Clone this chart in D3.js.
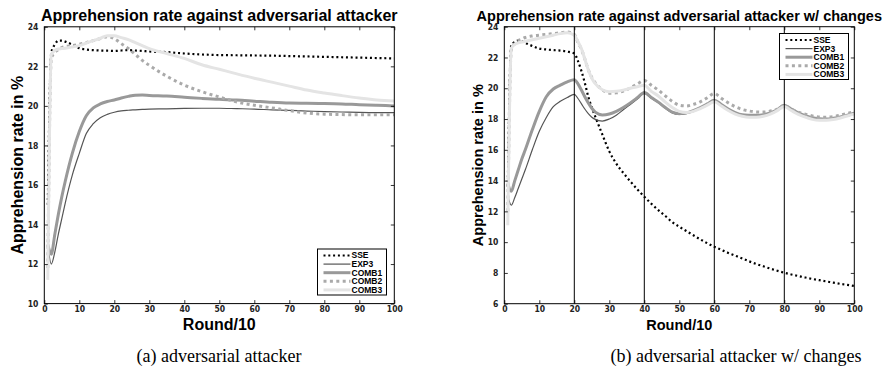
<!DOCTYPE html>
<html>
<head>
<meta charset="utf-8">
<script src="https://cdn.jsdelivr.net/npm/d3@7"></script>
<style>
  body { margin: 0; background: #fff; }
  svg { display: block; }
  .tick text { font-family: "Liberation Sans Narrow", "DejaVu Sans Condensed", Arial, sans-serif; font-weight: bold; font-size: 8.5px; fill: #222; }
  .lbl { font-family: "Liberation Sans", Arial, sans-serif; font-weight: bold; fill: #000; }
  .cap { font-family: "Liberation Serif", "DejaVu Serif", serif; font-size: 18px; fill: #000; }
  .leg { font-family: "Liberation Sans", Arial, sans-serif; font-weight: bold; font-size: 8.5px; fill: #000; }
</style>
</head>
<body>
<svg id="chart"></svg>
<script>
// series names, shared by both panels
const seriesNames = ['SSE', 'EXP3', 'COMB1', 'COMB2', 'COMB3'];

// (a) adversarial attacker
const leftX = [1,2,3,4,5,6,8,10,12,14,16,18,20,22,24,26,28,30,35,40,45,50,55,60,65,70,75,80,85,90,95,100];
const leftSSE = [15.0,22.7,23.1,23.3,23.3,23.25,23.1,22.92,22.85,22.82,22.8,22.79,22.78,22.8,22.82,22.8,22.78,22.75,22.72,22.65,22.6,22.57,22.56,22.55,22.54,22.52,22.5,22.48,22.46,22.44,22.42,22.4];
const leftEXP3 = [13.0,12.0,12.6,13.5,14.3,15.1,16.5,17.6,18.6,19.1,19.4,19.57,19.68,19.75,19.78,19.8,19.82,19.84,19.85,19.87,19.88,19.88,19.86,19.84,19.8,19.77,19.74,19.71,19.69,19.67,19.66,19.66];
const leftCOMB1 = [13.0,12.5,13.5,14.5,15.4,16.2,17.6,18.7,19.5,19.9,20.1,20.22,20.3,20.4,20.48,20.54,20.55,20.53,20.5,20.44,20.38,20.33,20.3,20.24,20.18,20.14,20.13,20.12,20.1,20.06,20.03,20.0];
const leftCOMB2 = [11.8,22.4,22.7,22.85,22.95,23.0,23.05,23.12,23.2,23.3,23.4,23.5,23.4,23.15,22.9,22.6,22.3,22.05,21.5,21.05,20.72,20.45,20.2,20.03,19.9,19.76,19.64,19.58,19.56,19.55,19.55,19.55];
const leftCOMB3 = [11.2,22.6,22.8,22.88,22.9,22.92,22.98,23.05,23.18,23.3,23.42,23.55,23.55,23.45,23.35,23.2,23.05,22.9,22.65,22.4,22.08,21.85,21.62,21.4,21.2,21.0,20.8,20.65,20.52,20.4,20.3,20.25];
const leftYTicks = [10,12,14,16,18,20,22,24];

// (b) adversarial attacker w/ changes
const rightX = [1,2,3,4,5,6,8,10,12,14,16,18,20,21,22,23,24,25,26,28,30,32,34,36,38,40,42,44,46,48,50,52,54,56,58,60,62,64,66,68,70,72,74,76,78,80,82,84,86,88,90,92,94,96,98,100];
const rightSSE = [13.6,22.8,23.0,23.1,23.05,22.95,22.75,22.58,22.52,22.48,22.45,22.38,22.26,21.8,21.15,20.35,19.45,18.75,18.15,17.0,15.9,15.1,14.5,13.95,13.43,12.95,12.5,12.08,11.7,11.3,11.0,10.72,10.45,10.18,9.93,9.7,9.5,9.3,9.12,8.94,8.75,8.58,8.43,8.28,8.14,8.01,7.9,7.8,7.7,7.61,7.53,7.45,7.37,7.29,7.22,7.15];
const rightEXP3 = [13.0,12.4,12.9,13.5,14.1,14.7,16.0,17.2,18.1,18.8,19.15,19.4,19.6,19.35,19.0,18.65,18.35,18.12,17.98,17.87,18.0,18.25,18.6,18.95,19.3,19.66,19.35,19.05,18.7,18.4,18.3,18.35,18.5,18.7,18.93,19.17,18.9,18.6,18.37,18.23,18.2,18.19,18.23,18.35,18.55,18.85,18.6,18.35,18.17,18.03,17.97,17.95,18.0,18.08,18.2,18.33];
const rightCOMB1 = [13.8,13.3,14.0,14.7,15.4,16.0,17.3,18.5,19.45,19.95,20.2,20.42,20.55,20.3,19.9,19.45,19.05,18.7,18.45,18.27,18.33,18.5,18.75,19.05,19.38,19.72,19.4,19.1,18.75,18.45,18.35,18.4,18.55,18.75,18.98,19.22,18.95,18.65,18.42,18.28,18.25,18.24,18.28,18.4,18.6,18.9,18.65,18.4,18.22,18.08,18.02,18.0,18.05,18.13,18.25,18.38];
const rightCOMB2 = [12.0,22.5,22.9,23.1,23.2,23.3,23.4,23.45,23.5,23.55,23.6,23.65,23.5,23.0,22.55,21.9,21.2,20.7,20.35,19.9,19.68,19.7,19.82,20.02,20.28,20.5,20.2,19.88,19.5,19.15,18.9,18.85,18.95,19.12,19.38,19.66,19.35,19.05,18.8,18.62,18.52,18.46,18.45,18.52,18.65,18.88,18.65,18.45,18.32,18.2,18.13,18.12,18.16,18.25,18.36,18.48];
const rightCOMB3 = [11.1,22.6,22.85,22.95,23.0,23.05,23.15,23.25,23.35,23.45,23.55,23.6,23.45,23.05,22.6,21.9,21.2,20.65,20.3,19.9,19.78,19.8,19.88,20.0,20.1,20.2,19.8,19.5,19.1,18.75,18.5,18.42,18.5,18.68,18.9,19.12,18.85,18.55,18.32,18.18,18.12,18.12,18.18,18.32,18.55,18.82,18.55,18.3,18.12,17.98,17.92,17.92,17.97,18.07,18.2,18.32];
const rightYTicks = [6,8,10,12,14,16,18,20,22,24];
const changePoints = [20,40,60,80];

const xTicks = [0,10,20,30,40,50,60,70,80,90,100];

const styles = {
  SSE:   { stroke: '#000', width: 2.2, dash: '2,2.8' },
  EXP3:  { stroke: '#555', width: 1.2, dash: null },
  COMB1: { stroke: '#999', width: 3, dash: null },
  COMB2: { stroke: '#aaa', width: 3, dash: '3,3.4' },
  COMB3: { stroke: '#e4e4e4', width: 3, dash: null }
};

const svg = d3.select('#chart').attr('width', 883).attr('height', 383);

function drawPanel(p) {
  const g = svg.append('g');
  const x = d3.scaleLinear().domain([0, 100]).range([p.left, p.right]);
  const y = d3.scaleLinear().domain(p.yDomain).range([p.bottom, p.top]);

  const clipId = 'clip' + p.id;
  svg.append('clipPath').attr('id', clipId)
    .append('rect')
    .attr('x', p.left).attr('y', p.top)
    .attr('width', p.right - p.left).attr('height', p.bottom - p.top);

  const line = d3.line()
    .x(d => x(d[0]))
    .y(d => y(d[1]))
    .curve(d3.curveMonotoneX);

  const plot = g.append('g').attr('clip-path', `url(#${clipId})`);
  seriesNames.forEach((name, i) => {
    const pts = p.xs.map((v, j) => [v, p.series[i][j]]);
    const s = styles[name];
    plot.append('path')
      .datum(pts)
      .attr('fill', 'none')
      .attr('stroke', s.stroke)
      .attr('stroke-width', s.width)
      .attr('stroke-dasharray', s.dash)
      .attr('d', line);
  });

  // vertical markers where the attacker changes
  (p.vlines || []).forEach(v => {
    plot.append('line')
      .attr('x1', x(v)).attr('x2', x(v))
      .attr('y1', p.top).attr('y2', p.bottom)
      .attr('stroke', '#000').attr('stroke-width', 1);
  });

  // axes, ticks pointing inwards on all sides
  const tk = 3.5;
  g.append('g')
    .attr('transform', `translate(0,${p.bottom})`)
    .call(d3.axisBottom(x).tickValues(xTicks).tickSizeInner(-tk).tickSizeOuter(0).tickPadding(2));
  g.append('g')
    .attr('transform', `translate(0,${p.top})`)
    .call(d3.axisTop(x).tickValues(xTicks).tickSizeInner(-tk).tickSizeOuter(0).tickFormat(''));
  g.append('g')
    .attr('transform', `translate(${p.left},0)`)
    .call(d3.axisLeft(y).tickValues(p.yTicks).tickSizeInner(-tk).tickSizeOuter(0).tickPadding(6));
  g.append('g')
    .attr('transform', `translate(${p.right},0)`)
    .call(d3.axisRight(y).tickValues(p.yTicks).tickSizeInner(-tk).tickSizeOuter(0).tickFormat(''));
  g.selectAll('.domain').remove();
  g.selectAll('.tick line').attr('stroke', '#000').attr('stroke-width', 0.8);

  g.append('rect')
    .attr('x', p.left).attr('y', p.top)
    .attr('width', p.right - p.left).attr('height', p.bottom - p.top)
    .attr('fill', 'none').attr('stroke', '#000').attr('stroke-width', 1);

  const cx = (p.left + p.right) / 2;
  g.append('text').attr('class', 'lbl')
    .attr('x', cx).attr('y', 20.5)
    .attr('text-anchor', 'middle')
    .style('font-size', p.titleSize + 'px')
    .text(p.title);

  g.append('text').attr('class', 'lbl')
    .attr('transform', `translate(${p.yLabelX},${(p.top + p.bottom) / 2}) rotate(-90)`)
    .attr('text-anchor', 'middle')
    .style('font-size', p.labelSize + 'px')
    .text('Apprehension rate in %');

  g.append('text').attr('class', 'lbl')
    .attr('x', cx).attr('y', 330)
    .attr('text-anchor', 'middle')
    .style('font-size', p.labelSize + 'px')
    .text('Round/10');

  g.append('text').attr('class', 'cap')
    .attr('x', p.capX).attr('y', 362)
    .attr('text-anchor', 'middle')
    .text(p.caption);

  // legend
  const lg = g.append('g');
  lg.append('rect')
    .attr('x', p.legend.x).attr('y', p.legend.y)
    .attr('width', 69).attr('height', 46)
    .attr('fill', '#fff').attr('stroke', '#000').attr('stroke-width', 1);
  seriesNames.forEach((name, i) => {
    const s = styles[name];
    const ly = p.legend.y + 6.5 + i * 8.6;
    lg.append('line')
      .attr('x1', p.legend.x + 6).attr('x2', p.legend.x + 33)
      .attr('y1', ly).attr('y2', ly)
      .attr('stroke', s.stroke).attr('stroke-width', s.width)
      .attr('stroke-dasharray', s.dash);
    lg.append('text').attr('class', 'leg')
      .attr('x', p.legend.x + 34).attr('y', ly)
      .attr('dy', '0.35em')
      .text(name);
  });
}

drawPanel({
  id: 'a', left: 44.3, right: 394.3, top: 26.8, bottom: 303.6,
  yDomain: [10, 24], yTicks: leftYTicks,
  xs: leftX, series: [leftSSE, leftEXP3, leftCOMB1, leftCOMB2, leftCOMB3],
  title: 'Apprehension rate against adversarial attacker', titleSize: 16,
  labelSize: 16, yLabelX: 23,
  caption: '(a) adversarial attacker', capX: 219,
  legend: { x: 317.5, y: 249 }
});

drawPanel({
  id: 'b', left: 504.3, right: 854.3, top: 26.7, bottom: 303.7,
  yDomain: [6, 24], yTicks: rightYTicks,
  xs: rightX, series: [rightSSE, rightEXP3, rightCOMB1, rightCOMB2, rightCOMB3],
  vlines: changePoints,
  title: 'Apprehension rate against adversarial attacker w/ changes', titleSize: 14.5,
  labelSize: 14.5, yLabelX: 483,
  caption: '(b) adversarial attacker w/ changes', capX: 736,
  legend: { x: 779.5, y: 33.5 }
});
</script>
</body>
</html>
